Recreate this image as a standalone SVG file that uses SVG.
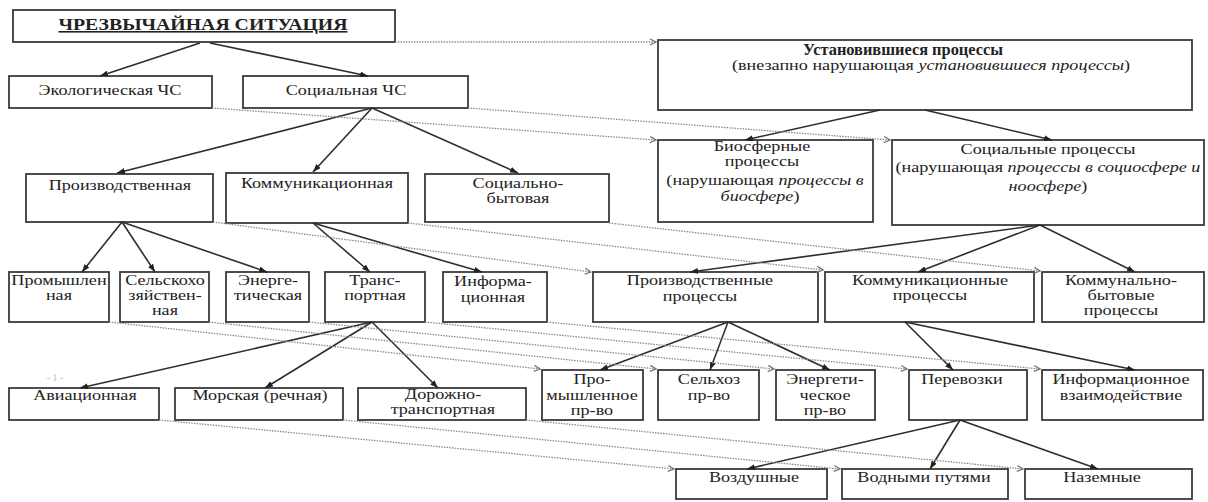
<svg xmlns="http://www.w3.org/2000/svg" width="1208" height="502" viewBox="0 0 1208 502">
<style>
.b{fill:#fff;stroke:#3a3a3a;stroke-width:1.8}
.t{font-family:"Liberation Serif","Times New Roman",serif;font-size:14.5px;fill:#222;text-anchor:middle;transform-box:fill-box;transform-origin:center;transform:scaleX(1.25)}
.i{font-style:italic}
.s{stroke:#2e2e2e;stroke-width:1.6;fill:none;marker-end:url(#ah)}
.d{stroke:#8a8a8a;stroke-width:1.3;stroke-dasharray:1.5 1.2;fill:none;marker-end:url(#dh)}
</style>
<defs>
<marker id="ah" viewBox="0 0 8 6" refX="8" refY="3" markerWidth="8" markerHeight="6" markerUnits="userSpaceOnUse" orient="auto"><path d="M0,0 L8,3 L0,6 z" fill="#222"/></marker>
<marker id="dh" viewBox="0 0 8 8" refX="7" refY="4" markerWidth="8" markerHeight="8" markerUnits="userSpaceOnUse" orient="auto"><path d="M1,1 L7,4 L1,7" fill="none" stroke="#777" stroke-width="1.3"/></marker>
</defs>
<rect width="1208" height="502" fill="#fff"/>
<text x="55" y="381" style="font-family:'Liberation Serif',serif;font-size:10px;fill:#bbb;text-anchor:middle">- 1 -</text>
<g id="n1"><rect class="b" x="13" y="10" width="382" height="32"/><text x="203" y="30" style="font-family:'Liberation Serif','Times New Roman',serif;font-size:16px;fill:#222;text-anchor:middle;font-weight:bold;text-decoration:underline" textLength="289" lengthAdjust="spacingAndGlyphs">ЧРЕЗВЫЧАЙНАЯ СИТУАЦИЯ</text></g>
<g id="n2"><rect class="b" x="9" y="76" width="203" height="32"/><text class="t" x="110" y="95">Экологическая ЧС</text></g>
<g id="n3"><rect class="b" x="243" y="76" width="225" height="32"/><text class="t" x="346" y="95">Социальная ЧС</text></g>
<g id="n4"><rect class="b" x="658" y="40" width="534" height="70"/><text x="903" y="55" style="font-family:'Liberation Serif','Times New Roman',serif;font-size:16px;fill:#222;text-anchor:middle;font-weight:bold" textLength="200" lengthAdjust="spacingAndGlyphs">Установившиеся процессы</text><text class="t" x="931" y="70">(внезапно нарушающая <tspan class="i">установившиеся процессы</tspan>)</text></g>
<g id="n5"><rect class="b" x="658" y="140" width="215" height="82"/><text class="t" x="762" y="151">Биосферные</text><text class="t" x="762" y="166">процессы</text><text class="t" x="765" y="185">(нарушающая <tspan class="i">процессы  в</tspan></text><text class="t" x="760" y="201"><tspan class="i">биосфере</tspan>)</text></g>
<g id="n6"><rect class="b" x="892" y="140" width="312" height="85"/><text class="t" x="1048" y="154">Социальные процессы</text><text class="t" x="1048" y="172">(нарушающая <tspan class="i">процессы в социосфере и</tspan></text><text class="t" x="1048" y="191"><tspan class="i">ноосфере</tspan>)</text></g>
<g id="n7"><rect class="b" x="26" y="174" width="187" height="48"/><text class="t" x="120" y="190">Производственная</text></g>
<g id="n8"><rect class="b" x="226" y="173" width="182" height="50"/><text class="t" x="317" y="188">Коммуникационная</text></g>
<g id="n9"><rect class="b" x="425" y="174" width="184" height="48"/><text class="t" x="518" y="188">Социально-</text><text class="t" x="518" y="203">бытовая</text></g>
<g id="n10"><rect class="b" x="9" y="272" width="100" height="50"/><text class="t" x="59" y="285">Промышлен</text><text class="t" x="59" y="300">ная</text></g>
<g id="n11"><rect class="b" x="120" y="272" width="89" height="50"/><text class="t" x="165" y="285">Сельскохо</text><text class="t" x="165" y="300">зяйствен-</text><text class="t" x="165" y="315">ная</text></g>
<g id="n12"><rect class="b" x="226" y="272" width="83" height="50"/><text class="t" x="268" y="285">Энерге-</text><text class="t" x="268" y="300">тическая</text></g>
<g id="n13"><rect class="b" x="325" y="272" width="100" height="50"/><text class="t" x="375" y="285">Транс-</text><text class="t" x="375" y="300">портная</text></g>
<g id="n14"><rect class="b" x="443" y="272" width="104" height="50"/><text class="t" x="493" y="286">Информа-</text><text class="t" x="493" y="302">ционная</text></g>
<g id="n15"><rect class="b" x="593" y="272" width="225" height="50"/><text class="t" x="700" y="285">Производственные</text><text class="t" x="700" y="301">процессы</text></g>
<g id="n16"><rect class="b" x="825" y="272" width="209" height="50"/><text class="t" x="930" y="285">Коммуникационные</text><text class="t" x="930" y="300">процессы</text></g>
<g id="n17"><rect class="b" x="1042" y="272" width="162" height="50"/><text class="t" x="1121" y="285">Коммунально-</text><text class="t" x="1121" y="300">бытовые</text><text class="t" x="1121" y="315">процессы</text></g>
<g id="n18"><rect class="b" x="9" y="388" width="150" height="32"/><text class="t" x="85" y="400">Авиационная</text></g>
<g id="n19"><rect class="b" x="175" y="388" width="168" height="32"/><text class="t" x="260" y="400">Морская (речная)</text></g>
<g id="n20"><rect class="b" x="358" y="388" width="168" height="32"/><text class="t" x="443" y="399">Дорожно-</text><text class="t" x="443" y="414">транспортная</text></g>
<g id="n21"><rect class="b" x="542" y="370" width="101" height="50"/><text class="t" x="592" y="384">Про-</text><text class="t" x="592" y="400">мышленное</text><text class="t" x="592" y="415">пр-во</text></g>
<g id="n22"><rect class="b" x="658" y="370" width="101" height="50"/><text class="t" x="709" y="384">Сельхоз</text><text class="t" x="709" y="400">пр-во</text></g>
<g id="n23"><rect class="b" x="776" y="370" width="99" height="50"/><text class="t" x="825" y="384">Энергети-</text><text class="t" x="825" y="400">ческое</text><text class="t" x="825" y="415">пр-во</text></g>
<g id="n24"><rect class="b" x="909" y="370" width="118" height="50"/><text class="t" x="962" y="384">Перевозки</text></g>
<g id="n25"><rect class="b" x="1042" y="370" width="161" height="50"/><text class="t" x="1121" y="384">Информационное</text><text class="t" x="1121" y="400">взаимодействие</text></g>
<g id="n26"><rect class="b" x="676" y="469" width="151" height="30"/><text class="t" x="754" y="482">Воздушные</text></g>
<g id="n27"><rect class="b" x="842" y="469" width="166" height="30"/><text class="t" x="924" y="482">Водными путями</text></g>
<g id="n28"><rect class="b" x="1025" y="469" width="167" height="30"/><text class="t" x="1102" y="482">Наземные</text></g>
<g id="connectors">
<path class="s" d="M200,43 L100,76"/>
<path class="s" d="M210,43 L368,76"/>
<path class="s" d="M372,108 L117,173"/>
<path class="s" d="M372,108 L313,172"/>
<path class="s" d="M372,108 L518,173"/>
<path class="s" d="M880,110 L745,140"/>
<path class="s" d="M925,110 L1052,140"/>
<path class="s" d="M122,222 L82,272"/>
<path class="s" d="M122,222 L155,272"/>
<path class="s" d="M122,222 L267,272"/>
<path class="s" d="M313,223 L370,272"/>
<path class="s" d="M313,223 L482,272"/>
<path class="s" d="M1040,225 L690,272"/>
<path class="s" d="M1040,225 L918,272"/>
<path class="s" d="M1040,225 L1135,272"/>
<path class="s" d="M372,322 L80,388"/>
<path class="s" d="M372,322 L265,388"/>
<path class="s" d="M372,322 L438,388"/>
<path class="s" d="M728,322 L600,370"/>
<path class="s" d="M728,322 L710,370"/>
<path class="s" d="M728,322 L830,370"/>
<path class="s" d="M905,322 L953,370"/>
<path class="s" d="M905,322 L1135,370"/>
<path class="s" d="M960,420 L747,469"/>
<path class="s" d="M960,420 L930,469"/>
<path class="s" d="M960,420 L1098,469"/>
<path class="d" d="M395,42 L656,42"/>
<path class="d" d="M212,108 L656,140"/>
<path class="d" d="M468,108 L890,140"/>
<path class="d" d="M213,222 L591,272"/>
<path class="d" d="M408,223 L823,270"/>
<path class="d" d="M609,223 L1040,271"/>
<path class="d" d="M109,322 L540,369"/>
<path class="d" d="M209,322 L656,369"/>
<path class="d" d="M309,322 L774,369"/>
<path class="d" d="M425,322 L907,369"/>
<path class="d" d="M547,322 L1040,369"/>
<path class="d" d="M159,420 L674,469"/>
<path class="d" d="M343,420 L840,469"/>
<path class="d" d="M526,420 L1023,469"/>
</g>
</svg>
